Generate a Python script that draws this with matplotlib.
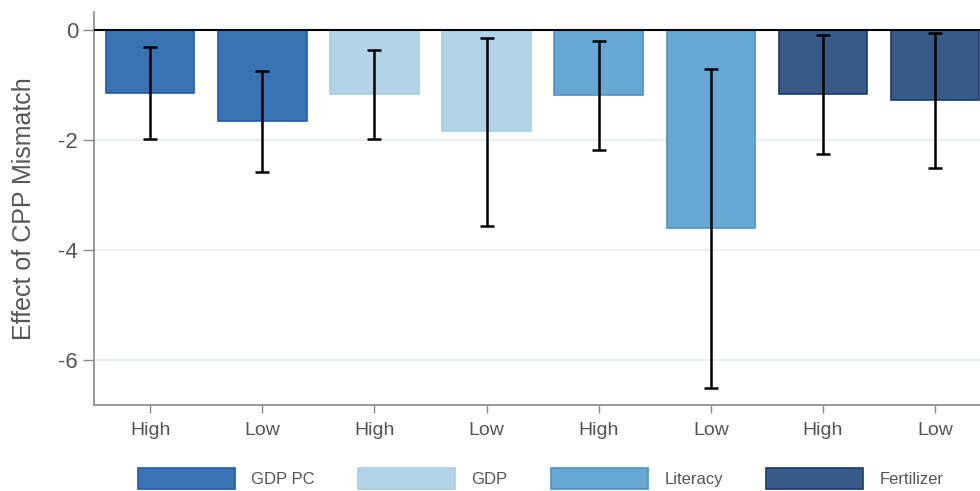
import matplotlib
matplotlib.use("Agg")
import matplotlib.pyplot as plt
from matplotlib.patches import Patch

plt.rcParams['font.family'] = ['Liberation Sans', 'DejaVu Sans']

# bars in order: GDP PC, GDP, Literacy, Fertilizer (High / Low each)
tick_labels = ["High", "Low", "High", "Low", "High", "Low", "High", "Low"]
effects = [-1.15, -1.65, -1.16, -1.84, -1.18, -3.60, -1.16, -1.27]
ci_low = [-1.98, -2.58, -1.98, -3.56, -2.18, -6.51, -2.25, -2.51]
ci_high = [-0.31, -0.75, -0.36, -0.15, -0.20, -0.71, -0.09, -0.05]
groups = ["GDP PC", "GDP", "Literacy", "Fertilizer"]
fills = ["#3a73b1", "#b1d4e7", "#67a8d3", "#375a88"]
edges = ["#1f5ca4", "#a6cde3", "#4a93c8", "#1b3a6e"]

fig = plt.figure(figsize=(9.8, 4.91), dpi=100)
ax = fig.add_axes([94 / 980, 86 / 491, 1 - 94 / 980, (405 - 12) / 491])

x = list(range(len(effects)))
bar_fill = [fills[i // 2] for i in x]
bar_edge = [edges[i // 2] for i in x]
ax.bar(x, effects, width=0.79, color=bar_fill, edgecolor=bar_edge, linewidth=1.2, zorder=2)

err = [[e - lo for e, lo in zip(effects, ci_low)], [hi - e for e, hi in zip(effects, ci_high)]]
ax.errorbar(x, effects, yerr=err, fmt="none", ecolor="black", elinewidth=1.8,
            capsize=5, capthick=1.8, zorder=3)

ax.axhline(0, color="black", linewidth=1.5, zorder=4)
for yv in [-2, -4, -6]:
    ax.axhline(yv, color="#e8f0f2", linewidth=1.5, zorder=1)

ax.set_xlim(-0.5, 7.4)
ax.set_ylim(-6.82, 0.33)
ax.set_yticks([0, -2, -4, -6])
ax.set_yticklabels(["0", "-2", "-4", "-6"])
ax.set_xticks(x)
ax.set_xticklabels(tick_labels)
ax.tick_params(axis="y", labelsize=16, colors="#888888", labelcolor="#555555", length=8, width=1)
ax.tick_params(axis="x", labelsize=14, colors="#888888", labelcolor="#555555", length=6, width=1, pad=6)
ax.set_ylabel("Effect of CPP Mismatch", fontsize=18, color="#555555")
ax.yaxis.set_label_coords(-58 / 886, 0.5)

for s in ["top", "right"]:
    ax.spines[s].set_visible(False)
for s in ["left", "bottom"]:
    ax.spines[s].set_color("#888888")
    ax.spines[s].set_linewidth(1.2)

handles = [Patch(facecolor=f, edgecolor=e, linewidth=1.2) for f, e in zip(fills, edges)]
fig.legend(handles, groups, loc="upper left", bbox_to_anchor=(138 / 980, 1 - 468 / 491),
           ncol=4, frameon=False, fontsize=12, handlelength=5.8, handleheight=1.6,
           handletextpad=1.0, columnspacing=2.6, borderpad=0, borderaxespad=0,
           labelcolor="#555555")

fig.savefig("out.png", dpi=100)
